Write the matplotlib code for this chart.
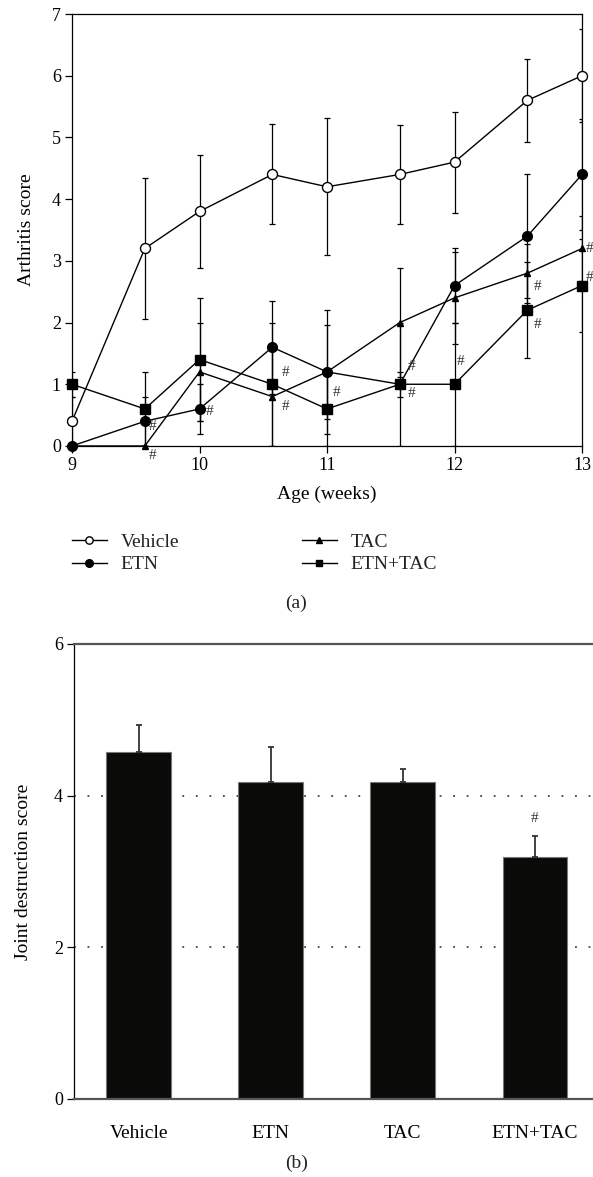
import matplotlib
matplotlib.use("Agg")
import matplotlib.pyplot as plt
from matplotlib.lines import Line2D

plt.rcParams['font.family'] = ['Liberation Serif', 'DejaVu Serif']
plt.rcParams['text.color'] = '#222222'

# Panel (a): arthritis score over age
weeks = [9, 9.571, 10, 10.571, 11, 11.571, 12, 12.571, 13]
vehicle = [0.4, 3.2, 3.8, 4.4, 4.2, 4.4, 4.6, 5.6, 6.0]
vehicle_err = [0.4, 1.15, 0.92, 0.81, 1.11, 0.8, 0.82, 0.67, 0.75]
etn = [0.0, 0.4, 0.6, 1.6, 1.2, 1.0, 2.6, 3.4, 4.4]
etn_err = [0.0, 0.4, 0.4, 0.75, 1.0, 0.2, 0.6, 1.0, 0.9]
tac = [0.0, 0.0, 1.2, 0.8, 1.2, 2.0, 2.4, 2.8, 3.2]
tac_err = [0.0, 0.0, 0.8, 0.8, 0.76, 0.89, 0.75, 0.48, 0.53]
combo = [1.0, 0.6, 1.4, 1.0, 0.6, 1.0, 1.0, 2.2, 2.6]
combo_err = [0.2, 0.6, 1.0, 1.0, 0.6, 1.0, 1.0, 0.78, 0.75]

# "#" marks: (series, point index, offset x px, offset y px)
hash_marks = [
    ("ETN", 1, 8, -5), ("TAC", 1, 8, -10), ("ETN", 2, 10, -3),
    ("ETN+TAC", 3, 13, 12), ("TAC", 3, 13, -10), ("ETN+TAC", 4, 10, 16),
    ("ETN+TAC", 5, 12, 18), ("ETN+TAC", 5, 12, -9), ("ETN+TAC", 6, 6, 23),
    ("TAC", 7, 10, -13), ("ETN+TAC", 7, 10, -14), ("TAC", 8, 8, 0),
    ("ETN+TAC", 8, 8, 8),
]

# Panel (b): joint destruction score
groups = ["Vehicle", "ETN", "TAC", "ETN+TAC"]
joint = [4.57, 4.18, 4.18, 3.19]
joint_err = [0.36, 0.46, 0.17, 0.28]
joint_sig = [False, False, False, True]

fig = plt.figure(figsize=(5.93, 11.77), dpi=100)

# ---- panel (a)
ax1 = fig.add_axes([0.1214, 0.6211, 0.8601, 0.3670])
series = {
    "Vehicle": (vehicle, vehicle_err, dict(marker='o', ms=7.2, mfc='white', mec='black', mew=1.0)),
    "ETN": (etn, etn_err, dict(marker='o', ms=7.0, mfc='black', mec='black')),
    "TAC": (tac, tac_err, dict(marker='^', ms=5.0, mfc='black', mec='black')),
    "ETN+TAC": (combo, combo_err, dict(marker='s', ms=6.5, mfc='black', mec='black')),
}
for name, (vals, errs, style) in series.items():
    ax1.errorbar(weeks, vals, yerr=errs, fmt='none', ecolor='black',
                 elinewidth=0.9, capsize=2, capthick=0.9)
    ax1.plot(weeks, vals, color='black', lw=1.0, clip_on=False, zorder=3, **style)

for name, idx, dx, dy in hash_marks:
    ax1.annotate("#", (weeks[idx], series[name][0][idx]), xytext=(dx, dy),
                 textcoords='offset pixels', ha='center', va='center',
                 fontsize=11, color='#333333')

ax1.set_xlim(9, 13)
ax1.set_ylim(0, 7)
ax1.set_xticks([9, 10, 11, 12, 13])
ax1.set_yticks(range(0, 8))
ax1.tick_params(direction='out', length=5, width=0.9, labelsize=13, pad=3)
for sp in ax1.spines.values():
    sp.set_linewidth(0.9)
ax1.set_xlabel("Age (weeks)", fontsize=14, labelpad=8)
ax1.set_ylabel("Arthritis score", fontsize=14, labelpad=12)

handles = [
    Line2D([], [], color='black', lw=1.0, marker='o', ms=5.3, mfc='white', mec='black'),
    Line2D([], [], color='black', lw=1.0, marker='o', ms=5.5, mfc='black'),
    Line2D([], [], color='black', lw=1.0, marker='^', ms=4.0, mfc='black'),
    Line2D([], [], color='black', lw=1.0, marker='s', ms=5.0, mfc='black'),
]
fig.legend(handles, ["Vehicle", "ETN", "TAC", "ETN+TAC"], ncol=2,
           loc='center left', bbox_to_anchor=(0.1214, 0.5299), frameon=False,
           fontsize=14, handlelength=1.8, handletextpad=0.7, columnspacing=6.3,
           labelspacing=0.25, borderpad=0, borderaxespad=0)
fig.text(0.5, 1 - 603 / 1177, "(a)", ha='center', va='center', fontsize=14)

# ---- panel (b)
ax2 = fig.add_axes([0.1248, 0.0663, 0.8752, 0.3866])
xpos = list(range(len(groups)))
ax2.bar(xpos, joint, width=0.49, color='#0a0a08', edgecolor='#777777',
        linewidth=0.8, zorder=2)
ax2.errorbar(xpos, joint, yerr=[[0] * len(joint_err), joint_err], fmt='none',
             ecolor='#333333', elinewidth=1.3, capsize=2.5, capthick=1.3, zorder=3)
for x, v, e, sig in zip(xpos, joint, joint_err, joint_sig):
    if sig:
        ax2.annotate("#", (x, v + e), xytext=(0, 17), textcoords='offset pixels',
                     ha='center', va='center', fontsize=11, color='#333333')

ax2.set_xlim(-0.49, 3.44)
ax2.set_ylim(0, 6)
ax2.set_yticks([0, 2, 4, 6])
ax2.set_xticks(xpos)
ax2.set_xticklabels(groups)
ax2.yaxis.grid(True, color='#444444', lw=1.3, linestyle=(0, (1.0, 6.5)))
ax2.set_axisbelow(True)
ax2.tick_params(axis='y', direction='out', length=5, width=0.9, labelsize=13, pad=3)
ax2.tick_params(axis='x', length=0, labelsize=14, pad=19)
ax2.spines['right'].set_visible(False)
ax2.spines['left'].set_linewidth(0.9)
ax2.spines['top'].set_color('#555555')
ax2.spines['top'].set_linewidth(1.6)
ax2.spines['bottom'].set_color('#555555')
ax2.spines['bottom'].set_linewidth(1.6)
ax2.set_ylabel("Joint destruction score", fontsize=14, labelpad=16)
fig.text(0.5, 1 - 1163 / 1177, "(b)", ha='center', va='center', fontsize=14)

fig.savefig("out.png", dpi=100)
